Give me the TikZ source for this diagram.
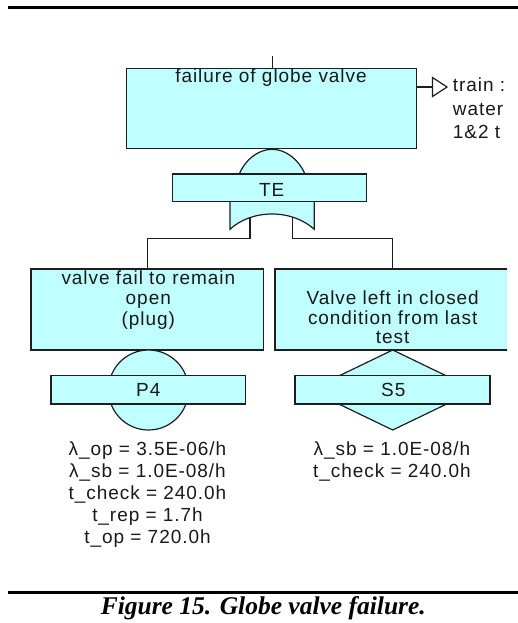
\documentclass[tikz,border=0pt]{standalone}
\usepackage{fontspec}
\newfontfamily\dgfont{Liberation Sans}[LetterSpace=5]
\newfontfamily\capfont{Liberation Serif}
\definecolor{evfill}{RGB}{192,255,255}
\definecolor{evline}{RGB}{30,30,30}
\tikzset{
  evbox/.style={draw=evline, fill=evfill, line width=1.2pt, inner sep=0pt, rectangle},
  gateshape/.style={draw=evline, fill=evfill, line width=1.2pt},
  conn/.style={draw=evline, line width=1.2pt},
  dtext/.style={font=\dgfont\fontsize{19}{19}\selectfont, inner sep=0pt, anchor=base, text=black!90},
  rulestyle/.style={line width=2.6pt, black}
}
\begin{document}
\begin{tikzpicture}[x=1pt, y=-1pt]
\useasboundingbox (0,0) rectangle (518,623);
% rules
\coordinate (rtl) at (8,7.3);
\coordinate (rtr) at (518,7.3);
\draw[rulestyle] (rtl) -- (rtr);
\coordinate (rbl) at (8,592.3);
\coordinate (rbr) at (518,592.3);
\draw[rulestyle] (rbl) -- (rbr);

\begin{scope}
\clip (0,0) rectangle (507,623);
% top event box
\node[evbox, minimum width=290pt, minimum height=80pt] (top) at (271.7,108.3) {};
\coordinate (stemtop) at (272.3,56);
\draw[conn] (stemtop) -- (stemtop |- top.north);
\node[dtext] (toptxt) at (271,82.3) {failure of globe valve};

% transfer out
\coordinate (trA) at (432.5,87);
\coordinate (trB) at (432.5,77.5);
\coordinate (trC) at (447,87);
\coordinate (trD) at (432.5,96.5);
\draw[conn] (top.east |- trA) -- (trA);
\draw[conn, fill=white, line join=miter] (trB) -- (trC) -- (trD) -- cycle;
\node[dtext, anchor=base west] (tr1) at (452.7,92) {train :};
\node[dtext, anchor=base west] (tr2) at (452.7,115.5) {water};
\node[dtext, anchor=base west] (tr3) at (452.7,139) {1\&2 t};

% dome above TE
\coordinate (domeL) at (239.3,174);
\coordinate (domeR) at (305,174);
\draw[gateshape] (domeL) .. controls (245,160) and (258,149.3) .. (272.2,149.3)
   .. controls (286,149.3) and (299,160) .. (domeR) -- cycle;
% gate below TE
\coordinate (gTL) at (230,200);
\coordinate (gTR) at (314.3,200);
\draw[gateshape] (gTL) -- (230,229.3) .. controls (240,220) and (255,214) .. (272,214)
   .. controls (289,214) and (304,220) .. (314.3,229.3) -- (gTR) -- cycle;
% TE box
\node[evbox, minimum width=194.4pt, minimum height=27.7pt] (te) at (269.5,187.85) {};
\node[dtext] (tetxt) at (271.7,196.5) {TE};

% connectors
\coordinate (gL) at (250,216.5);
\coordinate (gR) at (292.7,216.5);
\coordinate (bus) at (0,238.7);
% basic event boxes
\node[evbox, minimum width=232.3pt, minimum height=81pt] (lbox) at (147.2,309.5) {};
\node[evbox, minimum width=235.5pt, minimum height=81pt] (rbox) at (392.75,309.5) {};
\draw[conn] (gL) -- (gL |- bus) -| (lbox.north);
\draw[conn] (gR) -- (gR |- bus) -| (rbox.north);

\node[dtext] (l1) at (148.3,284.3) {valve fail to remain};
\node[dtext] (l2) at (148.3,304.3) {open};
\node[dtext] (l3) at (148.3,325) {(plug)};
\node[dtext] (r1) at (392.7,304) {Valve left in closed};
\node[dtext] (r2) at (392.7,324) {condition from last};
\node[dtext] (r3) at (392.7,343.5) {test};

% circle and diamond
\node[gateshape, circle, minimum size=80pt, inner sep=0pt] (circ) at (148.5,390) {};
\coordinate (dN) at (392.7,350);
\coordinate (dE) at (475.7,390);
\coordinate (dS) at (392.7,430);
\coordinate (dW) at (309.7,390);
\draw[gateshape, line join=miter] (dN) -- (dE) -- (dS) -- (dW) -- cycle;

\node[evbox, minimum width=194.7pt, minimum height=28.3pt] (p4) at (148.3,389.85) {};
\node[dtext] (p4txt) at (148.3,396.7) {P4};
\node[evbox, minimum width=195pt, minimum height=28.3pt] (s5) at (392.5,389.85) {};
\node[dtext] (s5txt) at (393.3,396.7) {S5};

% parameters
\node[dtext] (pl1) at (147.5,455) {λ\_op = 3.5E-06/h};
\node[dtext] (pl2) at (147.5,477) {λ\_sb = 1.0E-08/h};
\node[dtext] (pl3) at (147.5,499.2) {t\_check = 240.0h};
\node[dtext] (pl4) at (147.5,521.3) {t\_rep = 1.7h};
\node[dtext] (pl5) at (147.5,543.4) {t\_op = 720.0h};
\node[dtext] (pr1) at (392,455) {λ\_sb = 1.0E-08/h};
\node[dtext] (pr2) at (392,477) {t\_check = 240.0h};
\end{scope}

% caption
\node[font=\capfont\bfseries\itshape\fontsize{25.5}{25.5}\selectfont, inner sep=0pt, anchor=base] (cap) at (263.3,614.5) {Figure 15. Globe valve failure.};
\end{tikzpicture}
\end{document}
